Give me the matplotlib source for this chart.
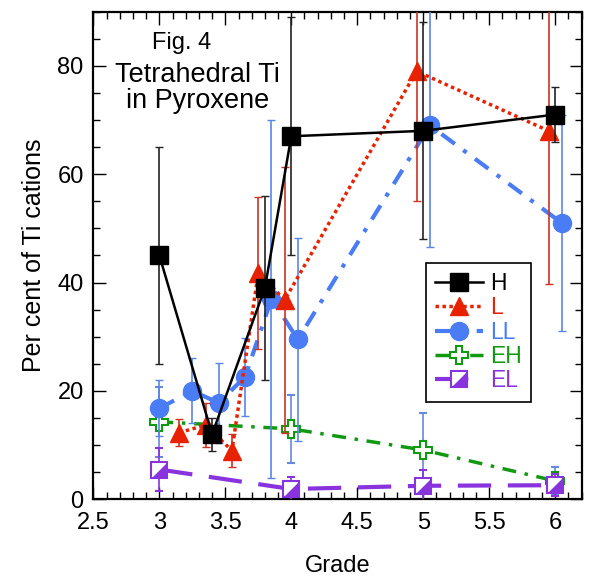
import matplotlib
matplotlib.use("Agg")
import matplotlib.pyplot as plt
from matplotlib.lines import Line2D
from matplotlib.ticker import MultipleLocator, FormatStrFormatter
from matplotlib.legend_handler import HandlerTuple

plt.rcParams["font.family"] = ["Liberation Sans", "DejaVu Sans"]

# petrologic grade vs per cent of tetrahedral Ti, one set per chondrite group
grade_H = [3.0, 3.4, 3.8, 4.0, 5.0, 6.0]
pct_H = [45, 12, 39, 67, 68, 71]
err_H = [20, 3, 17, 22, 20, 5]

grade_L = [3.15, 3.35, 3.55, 3.75, 3.95, 4.95, 5.95]
pct_L = [12.3, 13.7, 9.0, 41.8, 36.8, 79, 68]
err_L = [2.5, 4, 3, 14, 24.5, 24, 28.3]

grade_LL = [3.0, 3.25, 3.45, 3.65, 3.85, 4.05, 5.05, 6.05]
pct_LL = [16.8, 20, 17.8, 22.6, 37, 29.5, 69, 51]
err_LL = [5.2, 6, 7.4, 7.2, 33, 18.7, 22.5, 20]

grade_EH = [3.0, 4.0, 5.0, 6.0]
pct_EH = [14.3, 13, 9.1, 3.4]
err_EH = [6.5, 6.3, 6.9, 2.6]

grade_EL = [3.0, 4.0, 5.0, 6.0]
pct_EL = [5.5, 1.9, 2.5, 2.6]
err_EL = [4, 2.3, 3, 2]

labels = ["H", "L", "LL", "EH", "EL"]

black = "black"
red = "#e82200"
blue = "#4a7cf5"
green = "#119911"
purple = "#8833dd"
half_tri = [(-1, -1), (1, -1), (1, 1), (-1, -1)]

# line / marker styles shared by the plot and the legend proxies
st_H = dict(color=black, lw=1.8, marker="s", ms=13)
st_L = dict(color=red, lw=2.5, dashes=(1, 1), marker="^", ms=13)
st_LL = dict(color=blue, lw=3, dashes=(4, 2.5, 1, 2.5), marker="o", ms=13)
st_EH = dict(color=green, lw=2.5, dashes=(4, 2.5, 1, 2.5), marker="P", ms=13,
             mfc="white", mec=green, mew=1.5)
st_EL = dict(color=purple, lw=3, dashes=(8, 4), marker="s", ms=12,
             mfc="white", mec=purple, mew=1.5)
st_tri = dict(ls="none", marker=half_tri, ms=12, color=purple, mew=0)

fig = plt.figure(figsize=(5.91, 5.81), dpi=100)
ax = fig.add_axes([0.158, 0.1406, 0.826, 0.8394])

eb = dict(elinewidth=1.2, capsize=3)
ax.errorbar(grade_EH, pct_EH, yerr=err_EH, ecolor="#6688dd", zorder=4, **st_EH, **eb)
ax.errorbar(grade_EL, pct_EL, yerr=err_EL, ecolor=purple, zorder=4.5, **st_EL, **eb)
ax.plot(grade_EL, pct_EL, zorder=4.6, **st_tri)
ax.errorbar(grade_LL, pct_LL, yerr=err_LL, ecolor="#5a86e8", zorder=5, **st_LL, **eb)
ax.errorbar(grade_L, pct_L, yerr=err_L, ecolor="#cc3322", zorder=6, **st_L, **eb)
ax.errorbar(grade_H, pct_H, yerr=err_H, ecolor="#222222", zorder=7, **st_H, **eb)

ax.set_xlim(2.5, 6.2)
ax.set_ylim(0, 90)
ax.xaxis.set_major_locator(MultipleLocator(0.5))
ax.xaxis.set_minor_locator(MultipleLocator(0.1))
ax.xaxis.set_major_formatter(FormatStrFormatter("%g"))
ax.yaxis.set_major_locator(MultipleLocator(20))
ax.yaxis.set_minor_locator(MultipleLocator(5))
ax.tick_params(which="both", direction="in", top=True, right=True, labelsize=17, width=1)
ax.tick_params(which="major", length=9)
ax.tick_params(axis="x", which="major", pad=9)
ax.tick_params(axis="y", which="major", pad=7)
ax.tick_params(which="minor", length=5)
for s in ax.spines.values():
    s.set_linewidth(1.6)

ax.set_xlabel("Grade", fontsize=17, labelpad=15)
ax.set_ylabel("Per cent of Ti cations", fontsize=18, labelpad=8)

ax.text(0.18, 0.935, "Fig. 4", transform=ax.transAxes, ha="center", va="center", fontsize=17)
ax.text(0.214, 0.870, "Tetrahedral Ti", transform=ax.transAxes, ha="center", va="center",
        fontsize=19.5)
ax.text(0.214, 0.816, "in Pyroxene", transform=ax.transAxes, ha="center", va="center",
        fontsize=19.5)

handles = [Line2D([], [], **st_H), Line2D([], [], **st_L), Line2D([], [], **st_LL),
           Line2D([], [], **st_EH),
           (Line2D([], [], **st_EL), Line2D([], [], **st_tri))]
leg = ax.legend(handles, labels, handler_map={tuple: HandlerTuple(ndivide=1)},
                loc="upper left", bbox_to_anchor=(0.681, 0.485), borderaxespad=0,
                fontsize=16.5, fancybox=False, edgecolor="black", framealpha=1,
                handlelength=2.1, handletextpad=0.3, labelspacing=0.06,
                borderpad=0.4)
leg.get_frame().set_linewidth(1.2)
for txt, c in zip(leg.get_texts(), [black, red, blue, green, purple]):
    txt.set_color(c)

fig.savefig("out.png", dpi=100)
